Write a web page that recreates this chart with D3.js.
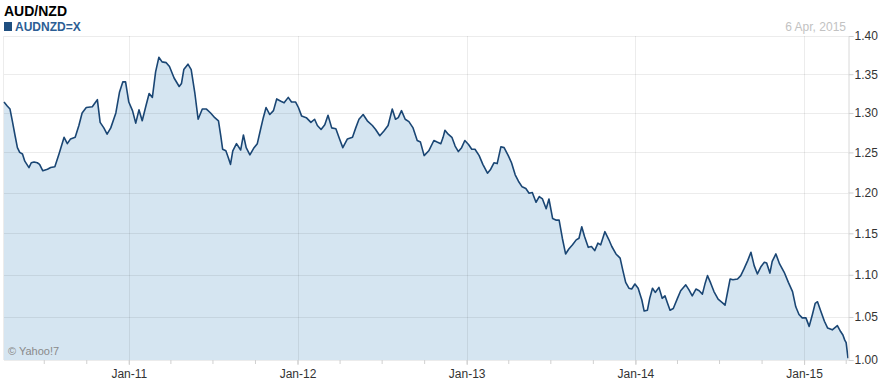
<!DOCTYPE html>
<html>
<head>
<meta charset="utf-8">
<script src="https://cdn.jsdelivr.net/npm/d3@7"></script>
<style>
  body { margin: 0; background: #fff; }
  svg { display: block; font-family: Arial, "Liberation Sans", sans-serif; }
</style>
</head>
<body>
<svg id="chart" width="883" height="384"></svg>
<script>
var title = "AUD/NZD";
var symbol = "AUDNZD=X";
var asOf = "6 Apr, 2015";
var credit = "\u00a9 Yahoo!7";

// roughly one point a week where the line moves
var dates = [
    "2010-04-06","2010-04-13","2010-04-19","2010-04-24","2010-04-30","2010-05-05","2010-05-10","2010-05-16","2010-05-21","2010-05-30",
    "2010-06-04","2010-06-10","2010-06-17","2010-06-22","2010-06-29","2010-07-09","2010-07-16","2010-07-25","2010-08-03","2010-08-14",
    "2010-08-21","2010-08-28","2010-09-07","2010-09-15","2010-09-22","2010-10-01","2010-10-14","2010-10-19","2010-10-25","2010-10-31",
    "2010-11-08","2010-11-15","2010-11-23","2010-12-04","2010-12-12","2010-12-19","2010-12-25",
    "2011-01-01","2011-01-09","2011-01-16","2011-01-23","2011-01-30","2011-02-07","2011-02-14","2011-02-21","2011-02-28","2011-03-07",
    "2011-03-14","2011-03-23","2011-03-30","2011-04-09","2011-04-20","2011-04-25","2011-04-30","2011-05-09","2011-05-16","2011-05-24",
    "2011-05-31","2011-06-09","2011-06-18","2011-06-27","2011-07-06","2011-07-14","2011-07-19","2011-07-23","2011-07-30","2011-08-04",
    "2011-08-09","2011-08-14","2011-08-22","2011-08-31","2011-09-06","2011-09-12","2011-09-20","2011-09-29","2011-10-06","2011-10-13",
    "2011-10-19","2011-10-25","2011-11-02","2011-11-10","2011-11-17","2011-11-26","2011-12-03","2011-12-12","2011-12-19","2011-12-28",
    "2012-01-03","2012-01-10","2012-01-20","2012-01-30","2012-02-07","2012-02-13","2012-02-21","2012-02-29","2012-03-07","2012-03-15",
    "2012-03-24","2012-04-01","2012-04-08","2012-04-18","2012-04-29","2012-05-06","2012-05-13","2012-05-22","2012-05-31","2012-06-11",
    "2012-06-18","2012-06-27","2012-07-06","2012-07-15","2012-07-24","2012-07-31","2012-08-06","2012-08-13","2012-08-21","2012-08-29",
    "2012-09-07","2012-09-16","2012-09-23","2012-10-01","2012-10-11","2012-10-22","2012-10-29","2012-11-06","2012-11-11","2012-11-15",
    "2012-11-22","2012-11-30","2012-12-07","2012-12-14","2012-12-21","2012-12-28",
    "2013-01-05","2013-01-12","2013-01-19","2013-01-28","2013-02-05","2013-02-15","2013-02-22","2013-03-01","2013-03-08","2013-03-16",
    "2013-03-23","2013-04-01","2013-04-08","2013-04-16","2013-04-23","2013-05-01","2013-05-09","2013-05-16","2013-05-23","2013-05-31",
    "2013-06-07","2013-06-14","2013-06-22","2013-06-28","2013-07-06","2013-07-14","2013-07-20","2013-07-27","2013-08-03","2013-08-10",
    "2013-08-18","2013-08-26","2013-09-01","2013-09-07","2013-09-13","2013-09-21","2013-09-28","2013-10-05","2013-10-12","2013-10-18",
    "2013-10-27","2013-11-04","2013-11-11","2013-11-20","2013-11-29","2013-12-05","2013-12-11","2013-12-18","2013-12-24","2013-12-31",
    "2014-01-07","2014-01-15","2014-01-20","2014-01-27","2014-02-01","2014-02-07","2014-02-13","2014-02-21","2014-02-28","2014-03-06",
    "2014-03-11","2014-03-17","2014-03-24","2014-04-02","2014-04-09","2014-04-20","2014-04-27","2014-05-04","2014-05-12","2014-05-19",
    "2014-05-26","2014-06-01","2014-06-06","2014-06-13","2014-06-20","2014-06-29","2014-07-08","2014-07-14","2014-07-19","2014-07-25",
    "2014-07-31","2014-08-10","2014-08-17","2014-08-24","2014-09-01","2014-09-08","2014-09-15","2014-09-22","2014-09-30","2014-10-07",
    "2014-10-12","2014-10-19","2014-10-24","2014-11-01","2014-11-09","2014-11-19","2014-11-28","2014-12-07","2014-12-14","2014-12-21",
    "2014-12-28",
    "2015-01-05","2015-01-12","2015-01-19","2015-01-25","2015-01-30","2015-02-06","2015-02-14","2015-02-21","2015-03-03","2015-03-14",
    "2015-03-21","2015-03-26","2015-03-30","2015-04-02","2015-04-06"
];
var rates = [
    1.314,1.309,1.305,1.290,1.271,1.256,1.250,1.248,1.239,1.231,
    1.237,1.238,1.237,1.235,1.227,1.229,1.231,1.232,1.248,1.269,
    1.261,1.267,1.269,1.284,1.300,1.307,1.308,1.312,1.317,1.288,
    1.281,1.273,1.281,1.300,1.327,1.340,1.340,
    1.314,1.303,1.287,1.304,1.290,1.309,1.325,1.320,1.353,1.372,
    1.366,1.365,1.360,1.345,1.334,1.338,1.356,1.363,1.356,1.325,
    1.292,1.305,1.305,1.300,1.294,1.290,1.271,1.254,1.252,1.244,
    1.235,1.252,1.261,1.253,1.272,1.256,1.247,1.256,1.261,1.279,
    1.294,1.307,1.298,1.303,1.318,1.315,1.313,1.320,1.314,1.314,
    1.307,1.296,1.294,1.288,1.292,1.284,1.279,1.285,1.297,1.281,
    1.280,1.267,1.256,1.267,1.269,1.281,1.292,1.298,1.290,1.284,
    1.279,1.271,1.277,1.284,1.305,1.292,1.294,1.303,1.292,1.289,
    1.281,1.265,1.263,1.246,1.252,1.265,1.263,1.261,1.269,1.278,
    1.273,1.269,1.258,1.251,1.256,1.265,
    1.260,1.254,1.254,1.246,1.235,1.224,1.229,1.237,1.236,1.257,
    1.256,1.246,1.237,1.222,1.214,1.207,1.205,1.199,1.200,1.188,
    1.195,1.192,1.180,1.192,1.168,1.166,1.166,1.144,1.125,1.131,
    1.136,1.142,1.144,1.158,1.146,1.133,1.134,1.129,1.138,1.136,
    1.152,1.143,1.134,1.125,1.120,1.105,1.091,1.084,1.083,1.089,
    1.084,1.070,1.057,1.058,1.072,1.084,1.079,1.085,1.072,1.075,
    1.067,1.058,1.060,1.072,1.081,1.088,1.082,1.075,1.083,1.081,
    1.077,1.090,1.099,1.090,1.080,1.071,1.067,1.064,1.078,1.095,
    1.094,1.095,1.099,1.107,1.117,1.127,1.111,1.101,1.110,1.115,
    1.114,1.102,1.116,1.125,1.113,1.103,1.091,1.080,1.062,1.053,
    1.049,
    1.049,1.039,1.053,1.066,1.068,1.057,1.045,1.037,1.035,1.040,
    1.033,1.029,1.023,1.020,1.002
];

var domainDates = ["2010-04-06", "2015-04-06"];
var yTicks = [1.00, 1.05, 1.10, 1.15, 1.20, 1.25, 1.30, 1.35, 1.40];
var yearTicks = ["2011-01-01", "2012-01-01", "2013-01-01", "2014-01-01", "2015-01-01"];
var yearLabels = ["Jan-11", "Jan-12", "Jan-13", "Jan-14", "Jan-15"];

(function(){
    var parse = d3.timeParse("%Y-%m-%d");
    var data = dates.map(function(d, i){ return { date: parse(d), rate: rates[i] }; });
    var plot = { left: 4, right: 848, top: 36, bottom: 360 };

    var svg = d3.select("#chart");

    var x = d3.scaleTime()
        .domain(domainDates.map(parse))
        .range([plot.left, plot.right]);
    // the price axis gets a bit tighter toward the top; a symlog with a large constant follows it
    var y = d3.scaleSymlog()
        .constant(1.75)
        .domain([yTicks[0], yTicks[yTicks.length - 1]])
        .range([plot.bottom, plot.top]);

    var area = d3.area()
        .x(function(d){ return x(d.date); })
        .y0(plot.bottom)
        .y1(function(d){ return y(d.rate); });
    var line = d3.line()
        .x(function(d){ return x(d.date); })
        .y(function(d){ return y(d.rate); });

    svg.append("path")
        .datum(data)
        .attr("d", area)
        .attr("fill", "#d5e5f1");

    // grid sits over the fill so it shows through faintly, like the original
    var grid = svg.append("g").attr("stroke", "rgba(0,0,0,0.075)").attr("stroke-width", 1);
    grid.selectAll("line.h")
        .data(yTicks)
        .enter().append("line")
        .attr("class", "h")
        .attr("x1", plot.left).attr("x2", plot.right)
        .attr("y1", function(d){ return Math.round(y(d)) + 0.5; })
        .attr("y2", function(d){ return Math.round(y(d)) + 0.5; });
    grid.selectAll("line.v")
        .data(yearTicks.map(parse))
        .enter().append("line")
        .attr("class", "v")
        .attr("x1", function(d){ return Math.round(x(d)) + 0.5; })
        .attr("x2", function(d){ return Math.round(x(d)) + 0.5; })
        .attr("y1", plot.top).attr("y2", plot.bottom);
    grid.append("line")
        .attr("x1", plot.left - 0.5).attr("x2", plot.left - 0.5)
        .attr("y1", plot.top).attr("y2", plot.bottom);

    svg.append("path")
        .datum(data)
        .attr("d", line)
        .attr("fill", "none")
        .attr("stroke", "#1a4674")
        .attr("stroke-width", 1.6)
        .attr("stroke-linejoin", "round");

    // right hand price axis
    var yAxis = svg.append("g")
        .attr("transform", "translate(" + (plot.right + 0.5) + ",0)")
        .call(d3.axisRight(y).tickValues(yTicks).tickFormat(d3.format(".2f")).tickSize(5).tickPadding(1));
    yAxis.select(".domain").attr("stroke", "#d8d8d8");
    yAxis.selectAll(".tick line").attr("stroke", "#d0d0d0");
    yAxis.selectAll("text").attr("fill", "#333").style("font-size", "12px").style("font-family", "Arial, 'Liberation Sans', sans-serif");

    // quarter ticks under the plot, then the year labels
    var quarters = d3.timeMonth.every(3).range(x.domain()[0], x.domain()[1]);
    var qAxis = svg.append("g")
        .attr("transform", "translate(0," + plot.bottom + ")")
        .call(d3.axisBottom(x).tickValues(quarters).tickSize(4).tickFormat(""));
    qAxis.select(".domain").remove();
    qAxis.selectAll(".tick line").attr("stroke", "#d0d0d0");

    var xAxis = svg.append("g")
        .attr("transform", "translate(0," + plot.bottom + ")")
        .call(d3.axisBottom(x).tickValues(yearTicks.map(parse)).tickSize(5).tickPadding(4)
            .tickFormat(function(d, i){ return yearLabels[i]; }));
    xAxis.select(".domain").remove();
    xAxis.selectAll(".tick line").attr("stroke", "#d0d0d0");
    xAxis.selectAll("text").attr("fill", "#333").style("font-size", "12px").style("font-family", "Arial, 'Liberation Sans', sans-serif");

    // header
    svg.append("text")
        .attr("x", 4).attr("y", 16)
        .style("font-size", "14px").style("font-weight", "bold")
        .attr("fill", "#000")
        .text(title);
    svg.append("rect")
        .attr("x", 4).attr("y", 22).attr("width", 8).attr("height", 9)
        .attr("fill", "#1f4f80");
    svg.append("text")
        .attr("x", 15).attr("y", 31)
        .style("font-size", "12px").style("font-weight", "bold")
        .attr("fill", "#2c5e94")
        .text(symbol);
    svg.append("text")
        .attr("x", 846).attr("y", 31)
        .attr("text-anchor", "end")
        .style("font-size", "12px")
        .attr("fill", "#c2c2c2")
        .text(asOf);
    svg.append("text")
        .attr("x", 8).attr("y", 355)
        .style("font-size", "11px")
        .attr("fill", "#8a8a8a")
        .text(credit);
})();
</script>
</body>
</html>
